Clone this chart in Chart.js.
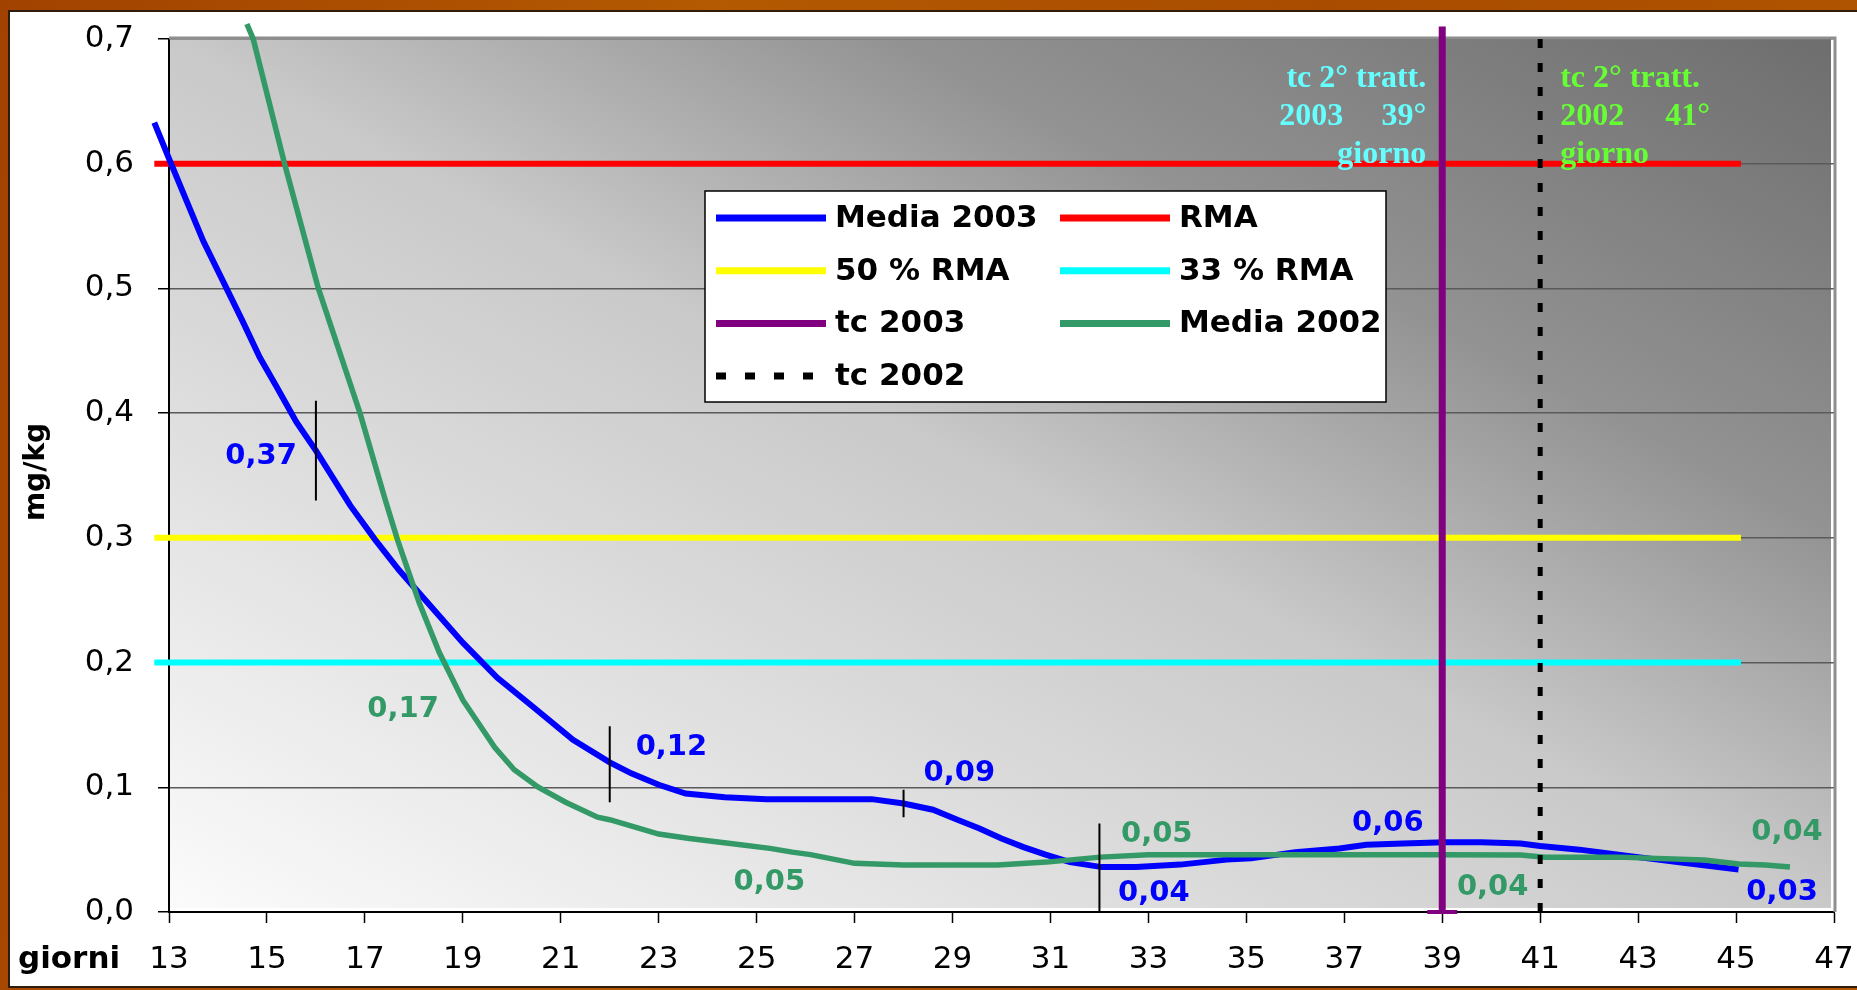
<!DOCTYPE html>
<html>
<head>
<meta charset="utf-8">
<script src="https://cdn.jsdelivr.net/npm/chart.js@4.4.0/dist/chart.umd.min.js"></script>
<style>
  html, body { margin: 0; padding: 0; }
  body {
    width: 1857px; height: 990px; overflow: hidden; position: relative;
    background: linear-gradient(100deg, #a24200 0%, #b45a02 35%, #a94c00 65%, #b15600 100%);
  }
  #panel {
    position: absolute; left: 8px; top: 10px; width: 1849px; height: 978px;
    background: #fff; box-sizing: border-box;
    border-left: 2px solid #2e1c0c; border-top: 2px solid #2e1c0c; border-bottom: 2px solid #2e1c0c;
  }
  #chart { position: absolute; left: 0; top: 0; }
</style>
</head>
<body>
<div id="panel"></div>
<canvas id="chart" width="1857" height="990"></canvas>
<script>
// Media 2003 (giorni / mg/kg)
const days2003 = [12.7, 13.0, 13.35, 13.7, 14.15, 14.5, 14.85, 15.2, 15.6, 16.0,
  16.7, 17.2, 17.7, 18.35, 19.0, 19.7, 20.45, 21.25, 22.0, 22.45,
  23.0, 23.55, 24.35, 25.2, 27.35, 28.0, 28.6, 29.1, 29.55, 30.0,
  30.45, 30.9, 31.4, 32.05, 32.75, 33.65, 34.6, 35.1, 36.0, 36.9,
  37.45, 38.2, 39.05, 39.8, 40.6, 41.0, 41.8, 43.0, 43.8, 45.05];
const media2003 = [0.633, 0.604, 0.571, 0.538, 0.502, 0.474, 0.445, 0.421, 0.393, 0.370,
  0.326, 0.299, 0.274, 0.245, 0.216, 0.188, 0.164, 0.138, 0.120, 0.111,
  0.102, 0.095, 0.092, 0.0905, 0.0905, 0.087, 0.082, 0.074, 0.067, 0.059,
  0.052, 0.046, 0.040, 0.036, 0.036, 0.038, 0.042, 0.043, 0.048, 0.051,
  0.054, 0.055, 0.056, 0.056, 0.055, 0.053, 0.050, 0.044, 0.040, 0.034];

// Media 2002
const days2002 = [14.59, 14.72, 15.36, 16.05, 16.9, 17.42, 17.67, 18.11, 18.52, 19.0,
  19.65, 20.05, 20.54, 21.1, 21.75, 22.0, 23.0, 23.63, 24.55, 25.27,
  25.73, 26.1, 27.0, 28.0, 29.92, 30.92, 32.02, 33.0, 36.0, 39.0,
  40.6, 41.1, 42.6, 44.35, 45.06, 45.6, 46.1];
const media2002 = [0.712, 0.70, 0.60, 0.50, 0.40, 0.33, 0.298, 0.248, 0.208, 0.170,
  0.132, 0.114, 0.100, 0.088, 0.076, 0.074, 0.0625, 0.059, 0.0545, 0.051,
  0.048, 0.046, 0.039, 0.0377, 0.0377, 0.040, 0.044, 0.046, 0.046, 0.046,
  0.0457, 0.044, 0.044, 0.0417, 0.0385, 0.0377, 0.036];

// limits (RMA and fractions)
const limitDays = [12.7, 45.1];
const rmaValue = 0.6;
const rma50Value = 0.3;
const rma33Value = 0.2;

// tc (2nd treatment) vertical lines
const tc2003Day = 39;
const tc2003Span = [0, 0.71];
const tc2002Day = 41;
const tc2002Span = [0, 0.7];

// small vertical marks on the 2003 curve
const markDays = [16, 22, 28, 32];
const markTop = [0.41, 0.149, 0.098, 0.071];
const markBottom = [0.33, 0.088, 0.076, 0];

// value notes
const noteText = ['0,37', '0,17', '0,12', '0,09', '0,05', '0,04', '0,05', '0,06', '0,04', '0,04', '0,03'];
const noteSeries = ['Media 2003', 'Media 2002', 'Media 2003', 'Media 2003', 'Media 2002', 'Media 2003',
  'Media 2002', 'Media 2003', 'Media 2002', 'Media 2002', 'Media 2003'];
const noteDay = [14.88, 17.78, 23.26, 29.14, 33.17, 33.11, 25.26, 37.89, 40.03, 46.04, 45.94];
const noteValue = [0.365, 0.162, 0.132, 0.111, 0.062, 0.015, 0.024, 0.071, 0.020, 0.064, 0.016];

const tcNote2003 = ['tc 2° tratt.', '2003', '39°', 'giorno'];
const tcNote2002 = ['tc 2° tratt.', '2002', '41°', 'giorno'];

const legendLabels = ['Media 2003', 'RMA', '50 % RMA', '33 % RMA', 'tc 2003', 'Media 2002', 'tc 2002'];

const xLabel = 'giorni';
const yLabel = 'mg/kg';

// build point lists
const toPoints = (xs, ys) => xs.map((x, i) => ({ x: x, y: ys[i] }));
const flat = v => limitDays.map(d => ({ x: d, y: v }));
const markPoints = [];
markDays.forEach((d, i) => {
    markPoints.push({ x: d, y: markTop[i] }, { x: d, y: markBottom[i] }, { x: d, y: null });
});

// plot background gradient + frame
const plotBackground = {
    id: 'plotBackground',
    beforeDraw(chart) {
        const c = chart.ctx;
        const a = chart.chartArea;
        c.save();
        c.fillStyle = '#ffffff';
        c.fillRect(a.left, a.top, a.right - a.left, a.bottom - a.top);
        c.translate(a.left, a.bottom - 4);
        c.scale(a.right - a.left - 3, -(a.bottom - 4 - a.top));
        const g = c.createLinearGradient(0, 0, 1, 1);
        g.addColorStop(0, '#fbfbfb');
        g.addColorStop(0.5, '#c9c9c9');
        g.addColorStop(0.72, '#929292');
        g.addColorStop(1, '#6e6e6e');
        c.fillStyle = g;
        c.fillRect(0, 0, 1, 1);
        c.restore();
    },
    beforeDatasetsDraw(chart) {
        const c = chart.ctx;
        const a = chart.chartArea;
        c.save();
        c.strokeStyle = '#8e8e8e';
        c.lineWidth = 3;
        c.beginPath();
        c.moveTo(a.left, a.top - 1);
        c.lineTo(a.right + 1, a.top - 1);
        c.lineTo(a.right + 1, a.bottom);
        c.stroke();
        c.restore();
    }
};

// text notes on the plot
const plotNotes = {
    id: 'plotNotes',
    afterDatasetsDraw(chart) {
        const c = chart.ctx;
        const xs = chart.scales.x;
        const ys = chart.scales.y;
        const a = chart.chartArea;
        const colorOf = label => chart.data.datasets.find(d => d.label === label).borderColor;
        c.save();
        c.font = 'bold 29px "DejaVu Sans"';
        c.textAlign = 'center';
        c.textBaseline = 'middle';
        noteText.forEach((t, i) => {
            c.fillStyle = colorOf(noteSeries[i]);
            c.fillText(t, xs.getPixelForValue(noteDay[i]), ys.getPixelForValue(noteValue[i]));
        });

        c.font = 'bold 32px "Liberation Serif"';
        c.textBaseline = 'alphabetic';
        const x03 = xs.getPixelForValue(tc2003Day);
        c.fillStyle = '#66ffff';
        c.textAlign = 'right';
        c.fillText(tcNote2003[0], x03 - 16, a.top + 48);
        c.fillText(tcNote2003[2], x03 - 16, a.top + 86);
        c.fillText(tcNote2003[3], x03 - 16, a.top + 124);
        c.textAlign = 'left';
        c.fillText(tcNote2003[1], x03 - 163, a.top + 86);

        const x02 = xs.getPixelForValue(tc2002Day);
        c.fillStyle = '#66ff33';
        c.fillText(tcNote2002[0], x02 + 20, a.top + 48);
        c.fillText(tcNote2002[1], x02 + 20, a.top + 86);
        c.fillText(tcNote2002[2], x02 + 125, a.top + 86);
        c.fillText(tcNote2002[3], x02 + 20, a.top + 124);
        c.restore();
    }
};

// boxed legend inside the plot + axis titles
const boxLegend = {
    id: 'boxLegend',
    afterDraw(chart) {
        const c = chart.ctx;
        c.save();
        c.fillStyle = '#ffffff';
        c.fillRect(705, 191, 681, 211);
        c.strokeStyle = '#000';
        c.lineWidth = 1.5;
        c.strokeRect(705, 191, 681, 211);

        c.font = 'bold 31px "DejaVu Sans"';
        c.textBaseline = 'middle';
        c.textAlign = 'left';
        legendLabels.forEach((label, i) => {
            const ds = chart.data.datasets.find(d => d.label === label);
            const col = i % 2;
            const row = Math.floor(i / 2);
            const y = 218 + row * 52.7;
            const x0 = col === 0 ? 716 : 1060;
            c.strokeStyle = ds.borderColor;
            c.lineWidth = 7;
            c.setLineDash(ds.borderDash ? [10, 19] : []);
            c.beginPath();
            c.moveTo(x0, y);
            c.lineTo(x0 + 110, y);
            c.stroke();
            c.setLineDash([]);
            c.fillStyle = '#000';
            c.fillText(label, x0 + 119, y + 1);
        });

        c.font = 'bold 31px "DejaVu Sans"';
        c.textBaseline = 'alphabetic';
        c.fillText(xLabel, 18, 968);

        c.translate(37, 472);
        c.rotate(-Math.PI / 2);
        c.font = 'bold 28px "DejaVu Sans"';
        c.textAlign = 'center';
        c.textBaseline = 'middle';
        c.fillText(yLabel, 0, 0);
        c.restore();
    }
};

const tickFont = { family: '"DejaVu Sans"', size: 31 };

new Chart(document.getElementById('chart').getContext('2d'), {
    type: 'line',
    data: {
        datasets: [
            { label: 'Media 2003', data: toPoints(days2003, media2003), borderColor: '#0000ff', borderWidth: 6, order: 4, clip: false },
            { label: 'RMA', data: flat(rmaValue), borderColor: '#ff0000', borderWidth: 6, order: 5, clip: false },
            { label: '50 % RMA', data: flat(rma50Value), borderColor: '#ffff00', borderWidth: 6, order: 5, clip: false },
            { label: '33 % RMA', data: flat(rma33Value), borderColor: '#00ffff', borderWidth: 6, order: 5, clip: false },
            {
                label: 'tc 2003',
                data: tc2003Span.map(v => ({ x: tc2003Day, y: v })),
                borderColor: '#800080', borderWidth: 7, order: 0, clip: false,
                pointStyle: 'line', pointRadius: [15, 0], pointBorderWidth: 4, pointBorderColor: '#800080'
            },
            { label: 'Media 2002', data: toPoints(days2002, media2002), borderColor: '#339966', borderWidth: 5.5, order: 3, clip: false },
            {
                label: 'tc 2002',
                data: tc2002Span.map(v => ({ x: tc2002Day, y: v })),
                borderColor: '#000000', borderWidth: 5, borderDash: [9, 15], order: 1, clip: false
            },
            { label: 'marks', data: markPoints, borderColor: '#000000', borderWidth: 2, order: 2, clip: false }
        ]
    },
    options: {
        responsive: false,
        animation: false,
        layout: { autoPadding: false, padding: { left: 0, top: 39, right: 23, bottom: 0 } },
        elements: {
            point: { radius: 0 },
            line: { tension: 0, borderCapStyle: 'butt', fill: false }
        },
        plugins: {
            legend: { display: false },
            tooltip: { enabled: false }
        },
        scales: {
            x: {
                type: 'linear',
                min: 13,
                max: 47,
                ticks: { stepSize: 2, color: '#000', font: tickFont, padding: 18, maxRotation: 0 },
                grid: { drawOnChartArea: false, tickLength: 11, tickColor: '#000', tickWidth: 1.5 },
                border: { color: '#000', width: 2 },
                afterFit: scale => {
                    scale.height = 78;
                    scale.paddingLeft = 0;
                    scale.paddingRight = 0;
                }
            },
            y: {
                min: 0,
                max: 0.7,
                ticks: {
                    stepSize: 0.1,
                    color: '#000',
                    font: tickFont,
                    padding: 24,
                    callback: v => v.toFixed(1).replace('.', ',')
                },
                grid: { color: '#5a5a5a', lineWidth: 1.5, tickLength: 11, tickColor: '#000' },
                border: { color: '#000', width: 2 },
                afterFit: scale => {
                    scale.width = 169;
                    scale.paddingTop = 0;
                    scale.paddingBottom = 0;
                }
            }
        }
    },
    plugins: [plotBackground, plotNotes, boxLegend]
});
</script>
</body>
</html>
